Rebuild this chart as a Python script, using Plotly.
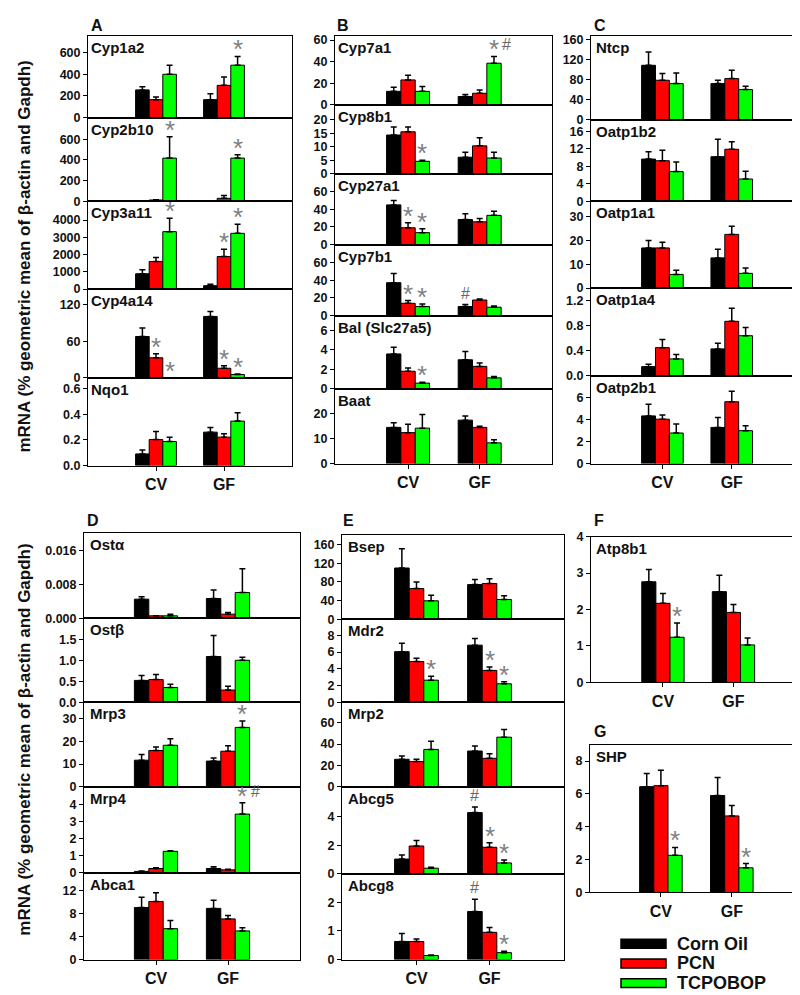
import plotly.graph_objects as go

W, H = 800, 995

# ---------------- data ----------------
groups = ["CV", "GF"]
treatments = ["Corn Oil", "PCN", "TCPOBOP"]
colors = ["#000000", "#ff0000", "#00ff00"]

genes = ["Cyp1a2", "Cyp2b10", "Cyp3a11", "Cyp4a14", "Nqo1",
         "Cyp7a1", "Cyp8b1", "Cyp27a1", "Cyp7b1", "Bal (Slc27a5)", "Baat",
         "Ntcp", "Oatp1b2", "Oatp1a1", "Oatp1a4", "Oatp2b1",
         "Ostα", "Ostβ", "Mrp3", "Mrp4", "Abca1",
         "Bsep", "Mdr2", "Mrp2", "Abcg5", "Abcg8",
         "Atp8b1", "SHP"]
gene_panel = ["A"] * 5 + ["B"] * 6 + ["C"] * 5 + ["D"] * 5 + ["E"] * 5 + ["F", "G"]

corn_cv = [255, 3, 888, 68, 0.091, 12.4, 14.3, 44.9, 37.2, 3.57, 14.5, 108.7, 9.66, 16.9, 0.147, 4.35,
           0.00453, 0.52, 11.7, 0.08, 9.05, 109.7, 6.04, 25.8, 1.03, 0.63, 2.76, 6.44]
corn_gf = [165, 1, 196, 101, 0.261, 7.6, 6.1, 28.4, 10.3, 2.97, 17.4, 72, 10.2, 12.7, 0.43, 3.3,
           0.00468, 1.09, 11.3, 0.25, 8.9, 74.3, 6.82, 33.5, 4.3, 1.68, 2.49, 5.9]
pcn_cv = [165, 13, 1597, 33, 0.203, 23, 15.5, 19.1, 14.0, 1.79, 12.4, 78.7, 9.28, 16.9, 0.45, 4.05,
          0.0006, 0.54, 15.9, 0.25, 10.1, 65.8, 4.86, 23.7, 1.95, 0.63, 2.17, 6.5]
pcn_gf = [297, 29, 1885, 15.7, 0.222, 10.6, 10.3, 25.8, 17.7, 2.29, 14.5, 82, 11.9, 22.6, 0.87, 5.64,
          0.001, 0.29, 15.6, 0.17, 7.07, 76.5, 3.8, 26.7, 1.86, 0.95, 1.92, 4.66]
tcp_cv = [399, 418, 3325, 0, 0.188, 12.4, 4.6, 13.6, 10.3, 0.57, 14.2, 72, 6.8, 5.75, 0.27, 2.79,
          0.0006, 0.35, 18.2, 1.25, 5.37, 39.6, 2.63, 35, 0.39, 0.14, 1.24, 2.26]
tcp_gf = [483, 418, 3228, 5.4, 0.347, 38.5, 5.8, 33.1, 9.6, 1.11, 8.3, 60, 5.1, 6.2, 0.64, 3.0,
          0.0061, 1.0, 26, 3.42, 4.98, 42.5, 2.2, 46.4, 0.76, 0.24, 1.03, 1.5]

corn_cv_err = [30, 0, 230, 14, 0.03, 3.7, 3.0, 4.8, 10.3, 0.68, 1.9, 26.6, 1.7, 3.1, 0.04, 1.05,
               0.00054, 0.12, 2.5, 0.02, 1.8, 41, 1.02, 3, 0.28, 0.28, 0.34, 0.8]
corn_gf_err = [54, 0, 90, 8, 0.036, 1.8, 1.8, 6.6, 2.2, 0.84, 1.7, 6.7, 4.0, 3.6, 0.09, 0.9,
               0.002, 0.5, 1.4, 0.1, 1.4, 10.6, 0.78, 4.6, 0.39, 0.43, 0.45, 1.1]
pcn_cv_err = [24, 3, 230, 6.5, 0.063, 4.3, 1.8, 5.6, 3, 0.33, 3.4, 13.3, 2.4, 2.4, 0.13, 0.39,
              0, 0.12, 1.6, 0.04, 1.5, 14.2, 0.39, 2.1, 0.39, 0.09, 0.27, 0.94]
pcn_gf_err = [78, 28, 420, 4.3, 0.026, 3, 3.0, 3.7, 1.1, 0.34, 0.5, 16.7, 1.7, 3.4, 0.21, 0.96,
              0.0004, 0.09, 2.4, 0.04, 0.57, 10, 0.4, 4.3, 0.32, 0.17, 0.22, 0.64]
tcp_cv_err = [84, 207, 770, 0, 0.034, 4.6, 0.4, 4.4, 3, 0.1, 5.5, 21.3, 2.2, 1.8, 0.07, 0.81,
              0.0004, 0.08, 2.8, 0.04, 1.4, 12, 0.47, 7.7, 0.07, 0.02, 0.39, 0.48]
tcp_gf_err = [81, 32, 520, 1, 0.065, 6.3, 2.1, 4.5, 1.4, 0.14, 1.2, 6.7, 1.8, 2.3, 0.13, 0.45,
              0.0056, 0.07, 2.8, 0.66, 0.57, 7.8, 0.23, 7.1, 0.21, 0.05, 0.19, 0.26]

# significance marks: (gene, group, treatment index, symbol)
marks = [("Cyp1a2", "GF", 2, "*"),
         ("Cyp2b10", "CV", 2, "*"), ("Cyp2b10", "GF", 2, "*"),
         ("Cyp3a11", "CV", 2, "*"), ("Cyp3a11", "GF", 1, "*"), ("Cyp3a11", "GF", 2, "*"),
         ("Cyp4a14", "CV", 1, "*"), ("Cyp4a14", "CV", 2, "*"), ("Cyp4a14", "GF", 1, "*"), ("Cyp4a14", "GF", 2, "*"),
         ("Cyp7a1", "GF", 2, "*#"),
         ("Cyp8b1", "CV", 2, "*"),
         ("Cyp27a1", "CV", 1, "*"), ("Cyp27a1", "CV", 2, "*"),
         ("Cyp7b1", "CV", 1, "*"), ("Cyp7b1", "CV", 2, "*"), ("Cyp7b1", "GF", 0, "#"),
         ("Bal (Slc27a5)", "CV", 2, "*"),
         ("Mrp3", "GF", 2, "*"),
         ("Mrp4", "GF", 2, "*#"),
         ("Mdr2", "CV", 2, "*"), ("Mdr2", "GF", 1, "*"), ("Mdr2", "GF", 2, "*"),
         ("Abcg5", "GF", 0, "#"), ("Abcg5", "GF", 1, "*"), ("Abcg5", "GF", 2, "*"),
         ("Abcg8", "GF", 0, "#"), ("Abcg8", "GF", 2, "*"),
         ("Atp8b1", "CV", 2, "*"),
         ("SHP", "CV", 2, "*"), ("SHP", "GF", 2, "*")]

# axis ranges and ticks
y_max = [755, 810, 5080, 146, 0.685,
         64, 25.5, 80, 80, 7.5, 30,
         168, 18.7, 36.5, 1.4, 8.0,
         0.0202, 2.0, 37, 5.0, 15.1,
         181, 9.9, 79, 6.1, 3.0,
         4.0, 9.0]
y_ticks = [[0, 200, 400, 600], [0, 200, 400, 600], [0, 1000, 2000, 3000, 4000], [0, 60, 120], [0, 0.2, 0.4, 0.6],
           [0, 20, 40, 60], [0, 5, 10, 15, 20], [0, 20, 40, 60], [0, 20, 40, 60], [0, 2, 4, 6], [0, 10, 20],
           [0, 40, 80, 120, 160], [0, 4, 8, 12, 16], [0, 10, 20, 30], [0, 0.4, 0.8, 1.2], [0, 2, 4, 6],
           [0, 0.008, 0.016], [0, 0.5, 1.0, 1.5], [0, 10, 20, 30], [0, 1, 2, 3, 4], [0, 4, 8, 12],
           [0, 40, 80, 120, 160], [0, 2, 4, 6, 8], [0, 20, 40, 60], [0, 2, 4], [0, 1, 2],
           [0, 1, 2, 3, 4], [0, 2, 4, 6, 8]]
y_fmt = ["", "", "", "", ".1f",
         "", "", "", "", "", "",
         "", "", "", ".1f", "",
         ".3f", ".1f", "", "", "",
         "", "", "", "", "",
         "", ""]

y_title = "mRNA (% geometric mean of β-actin and Gapdh)"

# ---------------- layout geometry (pixels) ----------------
panels = {
    "A": dict(x=(80, 284), rows=[21, 104, 189, 278, 368, 457], xr=(-1, 2), lab=(81, 11), gx=3),
    "B": dict(x=(327, 544), rows=[21, 91, 161, 233, 305, 379, 455], xr=(-1.02, 2.01), lab=(327, 11), gx=3),
    "C": dict(x=(583, 791), rows=[21, 106, 189, 277, 366, 455], xr=(-1.03, 1.97), lab=(584, 11), gx=5),
    "D": dict(x=(76, 292), rows=[525, 612, 697, 783, 870, 958], xr=(-1, 2), lab=(77, 513), gx=6),
    "E": dict(x=(334, 556), rows=[527, 613, 697, 783, 871, 958], xr=(-1.02, 2.02), lab=(333, 513), gx=6),
    "F": dict(x=(583, 796), rows=[529, 677], xr=(-1.02, 2.0), lab=(584, 513), gx=5),
    "G": dict(x=(582, 794), rows=[740, 890], xr=(-1, 1.99), lab=(584, 727), gx=6),
}

FONT = "Arial, Liberation Sans, sans-serif"
TXT = "#111111"


def px(x):
    return x / W


def py(y):
    return 1 - y / H


fig = go.Figure()
layout = dict(width=W, height=H, margin=dict(l=0, r=0, t=0, b=0),
              paper_bgcolor="white", plot_bgcolor="white",
              barmode="group", bargap=0.4, bargroupgap=0.0, showlegend=False,
              font=dict(family=FONT, color=TXT))
annotations = []
shapes = []

means = [(corn_cv, corn_gf), (pcn_cv, pcn_gf), (tcp_cv, tcp_gf)]
errs = [(corn_cv_err, corn_gf_err), (pcn_cv_err, pcn_gf_err), (tcp_cv_err, tcp_gf_err)]

row_counter = {k: 0 for k in panels}
for gi, gene in enumerate(genes):
    n = gi + 1
    pn = gene_panel[gi]
    P = panels[pn]
    r = row_counter[pn]
    row_counter[pn] += 1
    ytop, ybot = P["rows"][r], P["rows"][r + 1]
    is_bottom = (r + 1 == len(P["rows"]) - 1)
    xa = "x" if n == 1 else f"x{n}"
    ya = "y" if n == 1 else f"y{n}"
    for ti in range(3):
        fig.add_trace(go.Bar(
            x=groups, y=[means[ti][0][gi], means[ti][1][gi]],
            name=treatments[ti],
            marker=dict(color=colors[ti], line=dict(color="black", width=1)),
            error_y=dict(type="data", array=[errs[ti][0][gi], errs[ti][1][gi]],
                         arrayminus=[0, 0], symmetric=False,
                         color="black", thickness=1.5, width=3),
            xaxis=xa, yaxis=ya, showlegend=False))
    layout["xaxis" if n == 1 else f"xaxis{n}"] = dict(
        domain=[px(P["x"][0]), px(P["x"][1])], anchor=ya, type="category",
        range=list(P["xr"]), showline=True, mirror=True, linecolor="black", linewidth=1,
        showgrid=False, zeroline=False, fixedrange=True,
        ticks="outside" if is_bottom else "", ticklen=4, tickcolor="black",
        showticklabels=is_bottom,
        tickfont=dict(family=FONT, size=16, color=TXT, weight="bold"))
    layout["yaxis" if n == 1 else f"yaxis{n}"] = dict(
        domain=[py(ybot), py(ytop)], anchor=xa, range=[0, y_max[gi]],
        tickmode="array", tickvals=y_ticks[gi], tickformat=y_fmt[gi],
        showline=True, mirror=True, linecolor="black", linewidth=1,
        showgrid=False, zeroline=False, fixedrange=True,
        ticks="outside", ticklen=4, tickcolor="black",
        tickfont=dict(family=FONT, size=12.5, color=TXT, weight="bold"))
    # gene name
    annotations.append(dict(text=gene, xref=f"{xa} domain", yref=f"{ya} domain",
                            x=0, y=1, xanchor="left", yanchor="top",
                            xshift=P["gx"] - 2, yshift=-1, showarrow=False,
                            font=dict(family=FONT, size=15, color=TXT, weight="bold")))

# significance marks
for gene, grp, ti, sym in marks:
    gi = genes.index(gene)
    n = gi + 1
    xa = "x" if n == 1 else f"x{n}"
    ya = "y" if n == 1 else f"y{n}"
    k = groups.index(grp)
    top = means[ti][k][gi] + errs[ti][k][gi]
    xc = k + (ti - 1) * 0.2
    if "*" in sym:
        annotations.append(dict(text="*", x=xc, y=top, xref=xa, yref=ya,
                                xanchor="center", yanchor="bottom", yshift=-10,
                                showarrow=False,
                                font=dict(family=FONT, size=26, color="#7f7f7f")))
    if "#" in sym:
        annotations.append(dict(text="#", x=xc, y=top, xref=xa, yref=ya,
                                xanchor="center", yanchor="bottom",
                                xshift=13 if "*" in sym else 0, yshift=1,
                                showarrow=False,
                                font=dict(family=FONT, size=16, color="#666666")))

# panel letters
for pn, P in panels.items():
    annotations.append(dict(text=pn, x=px(P["lab"][0]), y=py(P["lab"][1]), xref="paper", yref="paper",
                            xanchor="left", yanchor="middle", showarrow=False,
                            font=dict(family=FONT, size=16, color=TXT, weight="bold")))

# y-axis titles
for yc in (245, 735):
    annotations.append(dict(text=y_title, x=px(17), y=py(yc), xref="paper", yref="paper",
                            textangle=-90, xanchor="center", yanchor="middle", showarrow=False,
                            font=dict(family=FONT, size=17, color=TXT, weight="bold")))

# legend
for ti, (name, col) in enumerate(zip(treatments, colors)):
    yc = 942 + ti * 20
    shapes.append(dict(type="rect", xref="paper", yref="paper",
                       x0=px(613), x1=px(658), y0=py(yc + 4.5), y1=py(yc - 4.5),
                       fillcolor=col, line=dict(color="black", width=1.5)))
    annotations.append(dict(text=name, x=px(667), y=py(yc), xref="paper", yref="paper",
                            xanchor="left", yanchor="middle", showarrow=False,
                            font=dict(family=FONT, size=18, color=TXT, weight="bold")))

layout["annotations"] = annotations
layout["shapes"] = shapes
fig.update_layout(**layout)
fig.write_html("out.html")
